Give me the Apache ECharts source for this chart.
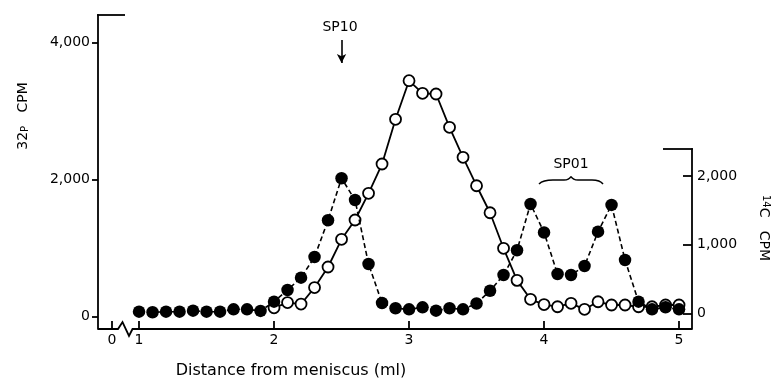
<!DOCTYPE html>
<html>
<head>
<meta charset="utf-8">
<script src="https://cdn.jsdelivr.net/npm/echarts@6/dist/echarts.min.js"></script>
<style>html,body{margin:0;padding:0;background:#fff;}#c{width:776px;height:380px;}</style>
</head>
<body>
<div id="c"></div>
<script>
// ---- data ----
const c14X = [1.0,1.1,1.2,1.3,1.4,1.5,1.6,1.7,1.8,1.9,2.0,2.1,2.2,2.3,2.4,2.5,2.6,2.7,2.8,2.9,3.0,3.1,3.2,3.3,3.4,3.5,3.6,3.7,3.8,3.9,4.0,4.1,4.2,4.3,4.4,4.5,4.6,4.7,4.8,4.9,5.0];
const c14CPM = [23,15,23,23,38,23,23,58,58,34,169,339,519,820,1355,1967,1650,718,150,73,58,87,38,73,58,143,328,558,918,1592,1177,572,558,689,1189,1578,776,169,58,87,58];
const p32X = [2.0,2.1,2.2,2.3,2.4,2.5,2.6,2.7,2.8,2.9,3.0,3.1,3.2,3.3,3.4,3.5,3.6,3.7,3.8,3.9,4.0,4.1,4.2,4.3,4.4,4.5,4.6,4.7,4.8,4.9,5.0];
const p32CPM = [127,204,182,423,723,1127,1409,1798,2226,2879,3442,3258,3248,2762,2324,1909,1515,996,528,251,175,143,193,105,216,168,168,143,143,168,168];
const xTickValues = [0.8,1,2,3,4,5];
const xTickLabels = ['0','1','2','3','4','5'];
const yLeftTickValues = [0,2000,4000];
const yLeftTickLabels = ['0','2,000','4,000'];
const yRightTickValues = [0,1000,2000];
const yRightTickLabels = ['0','1,000','2,000'];
const sp10Marker = 2.5;

const FONT = 'DejaVu Sans';
const INK = '#000';
const chart = echarts.init(document.getElementById('c'), null, {renderer:'canvas'});

function lookup(vals, labels){
  return function(v){
    for (let i=0;i<vals.length;i++){ if (Math.abs(vals[i]-v)<1e-6) return labels[i]; }
    return '';
  };
}
const labelStyle = {fontFamily:FONT, fontSize:14, color:INK};
const braceStyle = {stroke:INK, lineWidth:1.5, fill:null};

const option = {
  animation:false,
  backgroundColor:'#fff',
  grid:[
    {left:98, right:84, top:15, bottom:51, containLabel:false, outerBoundsMode:'none'},
    {left:98, right:84, top:149, bottom:51, containLabel:false, outerBoundsMode:'none'}
  ],
  xAxis:[
    {type:'value', gridIndex:0, min:0.696, max:5.096,
     axisLine:{show:false, onZero:false},
     splitLine:{show:false},
     axisTick:{show:true, inside:true, length:8, customValues:xTickValues, lineStyle:{color:INK, width:1.8}},
     axisLabel:Object.assign({show:true, customValues:xTickValues, margin:4, formatter:lookup(xTickValues,xTickLabels)}, labelStyle)
    },
    {type:'value', gridIndex:1, min:0.696, max:5.096, show:false}
  ],
  yAxis:[
    {type:'value', gridIndex:0, position:'left', min:-182, max:4401,
     axisLine:{show:true, onZero:false, lineStyle:{color:INK, width:1.8}},
     splitLine:{show:false},
     axisTick:{show:true, inside:false, length:6, customValues:yLeftTickValues, lineStyle:{color:INK, width:1.8}},
     axisLabel:Object.assign({show:true, customValues:yLeftTickValues, margin:8, formatter:lookup(yLeftTickValues,yLeftTickLabels)}, labelStyle)
    },
    {type:'value', gridIndex:1, position:'right', min:-229, max:2393,
     axisLine:{show:true, onZero:false, lineStyle:{color:INK, width:1.8}},
     splitLine:{show:false},
     axisTick:{show:true, inside:true, length:9, customValues:yRightTickValues, lineStyle:{color:INK, width:1.8}},
     axisLabel:Object.assign({show:true, customValues:yRightTickValues, margin:5, formatter:lookup(yRightTickValues,yRightTickLabels)}, labelStyle)
    }
  ],
  series:[
    {name:'32P', type:'line', xAxisIndex:0, yAxisIndex:0,
     data:p32X.map((x,i)=>[x,p32CPM[i]]),
     symbol:'circle', symbolSize:11, showSymbol:true,
     lineStyle:{color:INK, width:1.8, type:'solid'},
     itemStyle:{color:'#fff', borderColor:INK, borderWidth:1.8},
     z:3,
     markLine:{silent:true, symbol:['none','arrow'], symbolSize:[7,9],
       label:{show:false},
       lineStyle:{color:INK, width:1.6, type:'solid'},
       data:[[{coord:[sp10Marker,4036]},{coord:[sp10Marker,3700]}]]}
    },
    {name:'14C', type:'line', xAxisIndex:1, yAxisIndex:1,
     data:c14X.map((x,i)=>[x,c14CPM[i]]),
     symbol:'circle', symbolSize:12.5, showSymbol:true,
     lineStyle:{color:INK, width:1.6, type:[5,3]},
     itemStyle:{color:INK, borderColor:INK, borderWidth:0},
     z:4
    }
  ],
  graphic:[
    {type:'polyline', silent:true, z:10,
     shape:{points:[[98,329],[118,329],[122.5,322],[129,336],[132.5,329],[692,329]]},
     style:{stroke:INK, lineWidth:1.8, fill:null}},
    {type:'line', silent:true, shape:{x1:97.1,y1:15,x2:125,y2:15}, style:{stroke:INK, lineWidth:1.8}},
    {type:'line', silent:true, shape:{x1:663,y1:149,x2:692.9,y2:149}, style:{stroke:INK, lineWidth:1.8}},
    {type:'text', silent:true, x:340, y:27.5,
     style:{text:'SP10', fontFamily:FONT, fontSize:14, fill:INK, align:'center', verticalAlign:'middle'}},
    {type:'text', silent:true, x:571, y:164,
     style:{text:'SP01', fontFamily:FONT, fontSize:14, fill:INK, align:'center', verticalAlign:'middle'}},
    {type:'bezierCurve', silent:true, shape:{x1:539,y1:184,cpx1:543,cpy1:180,x2:553,y2:180}, style:braceStyle},
    {type:'line', silent:true, shape:{x1:553,y1:180,x2:564,y2:180}, style:braceStyle},
    {type:'bezierCurve', silent:true, shape:{x1:564,y1:180,cpx1:569,cpy1:180,x2:571,y2:176.5}, style:braceStyle},
    {type:'bezierCurve', silent:true, shape:{x1:571,y1:176.5,cpx1:573,cpy1:180,x2:578,y2:180}, style:braceStyle},
    {type:'line', silent:true, shape:{x1:578,y1:180,x2:592,y2:180}, style:braceStyle},
    {type:'bezierCurve', silent:true, shape:{x1:592,y1:180,cpx1:600,cpy1:180,x2:603,y2:184}, style:braceStyle},
    {type:'text', silent:true, x:23, y:116, rotation:Math.PI/2,
     style:{text:'{a|32}{b|P}   CPM', fontFamily:FONT, fontSize:14, fill:INK, align:'center', verticalAlign:'middle',
       rich:{a:{fontFamily:FONT, fontSize:14, fill:INK, verticalAlign:'bottom'}, b:{fontFamily:FONT, fontSize:10, fill:INK, verticalAlign:'bottom'}}}},
    {type:'text', silent:true, x:764, y:228, rotation:-Math.PI/2,
     style:{text:'{a|14}{b|C}   CPM', fontFamily:FONT, fontSize:14, fill:INK, align:'center', verticalAlign:'middle',
       rich:{a:{fontFamily:FONT, fontSize:10, fill:INK, verticalAlign:'top'}, b:{fontFamily:FONT, fontSize:14, fill:INK, verticalAlign:'bottom'}}}},
    {type:'text', silent:true, x:291, y:371,
     style:{text:'Distance from meniscus (ml)', fontFamily:FONT, fontSize:16, fill:INK, align:'center', verticalAlign:'middle'}}
  ]
};
chart.setOption(option);
</script>
</body>
</html>
